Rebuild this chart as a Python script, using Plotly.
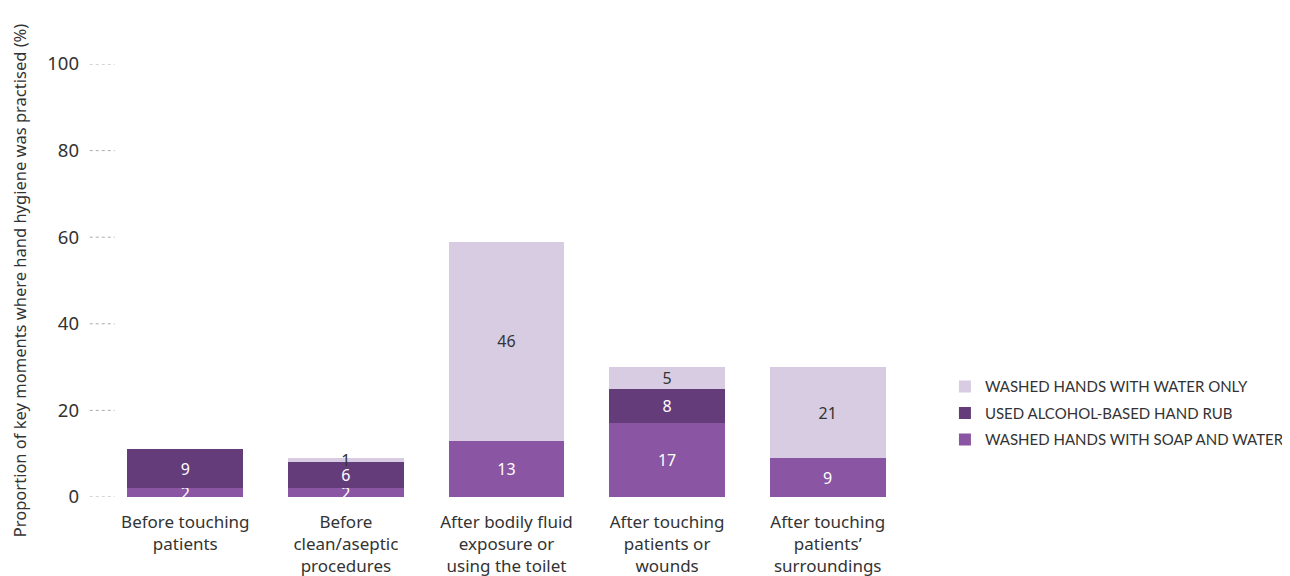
import plotly.graph_objects as go

categories = [
    "Before touching<br>patients",
    "Before<br>clean/aseptic<br>procedures",
    "After bodily fluid<br>exposure or<br>using the toilet",
    "After touching<br>patients or<br>wounds",
    "After touching<br>patients’<br>surroundings",
]
soap_water = [2, 2, 13, 17, 9]
alcohol_rub = [9, 6, None, 8, None]
water_only = [None, 1, 46, 5, 21]

y_ticks = [0, 20, 40, 60, 80, 100]

series = [
    ("WASHED HANDS WITH SOAP AND WATER", soap_water, "#8a55a2", "#ffffff"),
    ("USED ALCOHOL-BASED HAND RUB", alcohol_rub, "#653c7a", "#ffffff"),
    ("WASHED HANDS WITH WATER ONLY", water_only, "#d8cce3", "#333333"),
]

fig = go.Figure()
for i, (name, vals, color, tcolor) in enumerate(series):
    fig.add_trace(go.Bar(
        x=categories, y=vals, name=name, legendgroup=f"g{i}",
        legendrank=1000 - i,
        marker=dict(color=color, line=dict(width=0)),
        text=[("" if v is None else str(v)) for v in vals],
        textposition="inside", insidetextanchor="middle",
        constraintext="none", textangle=0,
        textfont=dict(color=tcolor, size=16, family="Noto Sans"),
        hoverinfo="skip",
    ))

for t in y_ticks:
    fig.add_shape(type="line", xref="paper", yref="y",
                  x0=-0.019, x1=0.012, y0=t, y1=t,
                  line=dict(color="#aaaaaa", width=1, dash="dot"))

# page body adds an 8px offset; figure sized to fit the window
fig.update_layout(
    width=1282, height=568,
    barmode="stack", bargap=0.28,
    paper_bgcolor="white", plot_bgcolor="white",
    margin=dict(l=97, r=382, t=56, b=79, autoexpand=False),
    font=dict(family="Noto Sans", color="#333333", size=16),
    legend=dict(
        traceorder="grouped", tracegroupgap=4,
        x=1.046, xanchor="left", y=0.293, yanchor="top",
        font=dict(family="Lato", size=15, color="#333333"),
        bgcolor="rgba(0,0,0,0)",
    ),
    showlegend=True,
)
fig.update_xaxes(showgrid=False, showline=False, ticks="", zeroline=False,
                 automargin=False, ticklabelstandoff=13,
                 tickfont=dict(size=17, color="#333333"), tickangle=0)
fig.update_yaxes(range=[0, 100], tickvals=y_ticks, showgrid=False, zeroline=False,
                 showline=False, ticks="", ticklabelstandoff=25, automargin=False,
                 tickfont=dict(size=18.5, color="#333333"),
                 title=dict(text="Proportion of key moments where hand hygiene was practised (%)",
                            font=dict(size=16.5, color="#333333"), standoff=23))

fig.write_html("out.html")
